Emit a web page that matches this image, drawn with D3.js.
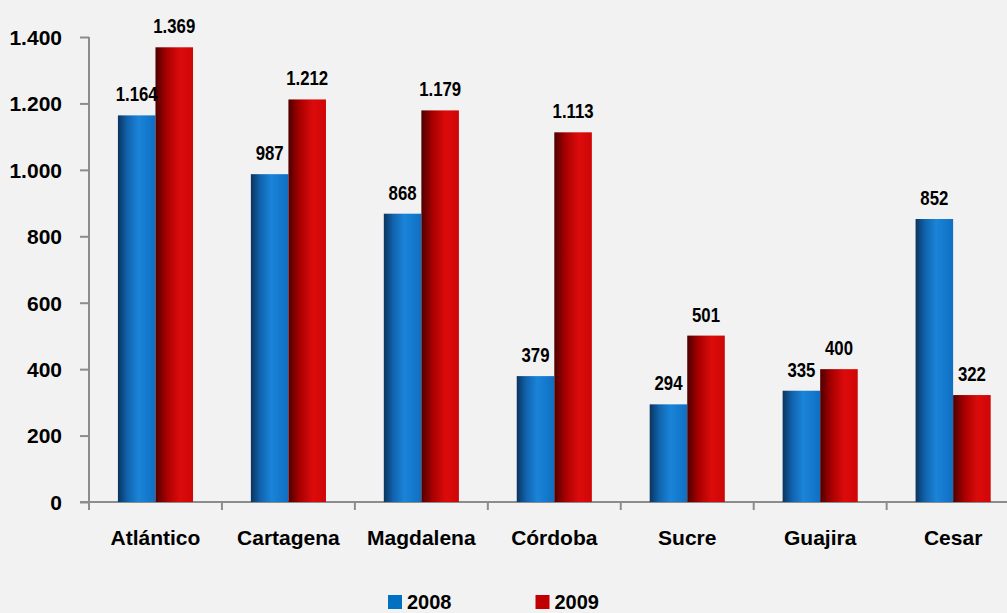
<!DOCTYPE html>
<html>
<head>
<meta charset="utf-8">
<script src="https://cdn.jsdelivr.net/npm/d3@7"></script>
<style>
  body { margin: 0; background: #f2f2f2; }
  svg text { font-family: "Liberation Sans Narrow", "Arial Narrow", "Liberation Sans", Arial, sans-serif; font-weight: bold; fill: #000; }
</style>
</head>
<body>
<script>
// chart data
var categories = ["Atlántico", "Cartagena", "Magdalena", "Córdoba", "Sucre", "Guajira", "Cesar"];
var series = ["2008", "2009"];
var values2008 = [1164, 987, 868, 379, 294, 335, 852];
var values2009 = [1369, 1212, 1179, 1113, 501, 400, 322];
var yTicks = [0, 200, 400, 600, 800, 1000, 1200, 1400];

var width = 1007,
    height = 613;

var svg = d3.select("body")
    .append("svg")
    .attr("width", width)
    .attr("height", height);

var locale = d3.formatLocale({decimal: ",", thousands: ".", grouping: [3], currency: ["$", ""]});
var fmt = locale.format(",d");

//gradients for the bars
var defs = svg.append("defs");
function addGrad(id, stops){
    var g = defs.append("linearGradient").attr("id", id)
        .attr("x1", "0%").attr("x2", "100%").attr("y1", "0%").attr("y2", "0%");
    stops.forEach(function(s){
        g.append("stop").attr("offset", s[0]).attr("stop-color", s[1]);
    });
}
addGrad("gBlue", [["0%", "#0a345e"], ["25%", "#1163ad"], ["55%", "#1a84d8"], ["100%", "#0f6fc2"]]);
addGrad("gRed", [["0%", "#4e0000"], ["30%", "#a80000"], ["65%", "#dc0b0b"], ["100%", "#cf0606"]]);
var colors = {"2008": "url(#gBlue)", "2009": "url(#gRed)"};
var legendColors = {"2008": "#0070c0", "2009": "#c00000"};

var x = d3.scaleBand()
    .domain(categories)
    .range([89, 1019.6])
    .paddingInner(0)
    .paddingOuter(0);

var xSub = d3.scaleBand()
    .domain(series)
    .range([0, x.bandwidth()])
    .paddingInner(0)
    .paddingOuter(0.77);

var y = d3.scaleLinear()
    .domain([0, 1400])
    .range([502, 37]);

//axes
var yAxis = svg.append("g")
    .attr("transform", "translate(89,0)")
    .call(d3.axisLeft(y).tickValues(yTicks).tickFormat(fmt).tickSize(9).tickPadding(18));
yAxis.select(".domain").attr("stroke", "#8c8c8c").attr("stroke-width", 2).attr("d", "M0," + y(1400) + "V" + y(0));
yAxis.selectAll(".tick line").attr("stroke", "#8c8c8c").attr("stroke-width", 2);
yAxis.selectAll(".tick text").style("font-size", "21px").attr("dy", "0.35em");

var xAxis = svg.append("g")
    .attr("transform", "translate(0," + y(0) + ")");
xAxis.append("line")
    .attr("x1", 80).attr("x2", 1019.6)
    .attr("y1", 0).attr("y2", 0)
    .attr("stroke", "#8c8c8c").attr("stroke-width", 2);
xAxis.selectAll(".xtick")
    .data(categories)
    .enter()
    .append("line")
    .attr("x1", function(d){ return x(d); })
    .attr("x2", function(d){ return x(d); })
    .attr("y1", 0).attr("y2", 8)
    .attr("stroke", "#8c8c8c").attr("stroke-width", 2);
xAxis.selectAll(".xlabel")
    .data(categories)
    .enter()
    .append("text")
    .attr("x", function(d){ return x(d) + x.bandwidth() / 2; })
    .attr("y", 43)
    .attr("text-anchor", "middle")
    .style("font-size", "21px")
    .text(function(d){ return d; });

//bars
var rows = categories.map(function(c, i){
    return {cat: c, vals: [{s: "2008", v: values2008[i]}, {s: "2009", v: values2009[i]}]};
});

var groups = svg.selectAll(".grp")
    .data(rows)
    .enter()
    .append("g")
    .attr("transform", function(d){ return "translate(" + x(d.cat) + ",0)"; });

groups.selectAll("rect")
    .data(function(d){ return d.vals; })
    .enter()
    .append("rect")
    .attr("x", function(d){ return xSub(d.s); })
    .attr("width", xSub.bandwidth())
    .attr("y", function(d){ return y(d.v); })
    .attr("height", function(d){ return y(0) - y(d.v); })
    .attr("fill", function(d){ return colors[d.s]; });

//value labels, squeezed horizontally to look like a narrow face
groups.selectAll(".lbl")
    .data(function(d){ return d.vals; })
    .enter()
    .append("text")
    .attr("transform", function(d){
        return "translate(" + (xSub(d.s) + xSub.bandwidth() / 2) + "," + (y(d.v) - 14) + ") scale(0.84,1)";
    })
    .attr("text-anchor", "middle")
    .style("font-size", "20px")
    .text(function(d){ return fmt(d.v); });

//legend
var legend = svg.selectAll(".leg")
    .data(series)
    .enter()
    .append("g")
    .attr("transform", function(d, i){ return "translate(" + (388 + i * 147.5) + ",595)"; });
legend.append("rect")
    .attr("width", 14).attr("height", 14)
    .attr("fill", function(d){ return legendColors[d]; });
legend.append("text")
    .attr("x", 19).attr("y", 14)
    .style("font-size", "20px")
    .text(function(d){ return d; });
</script>
</body>
</html>
